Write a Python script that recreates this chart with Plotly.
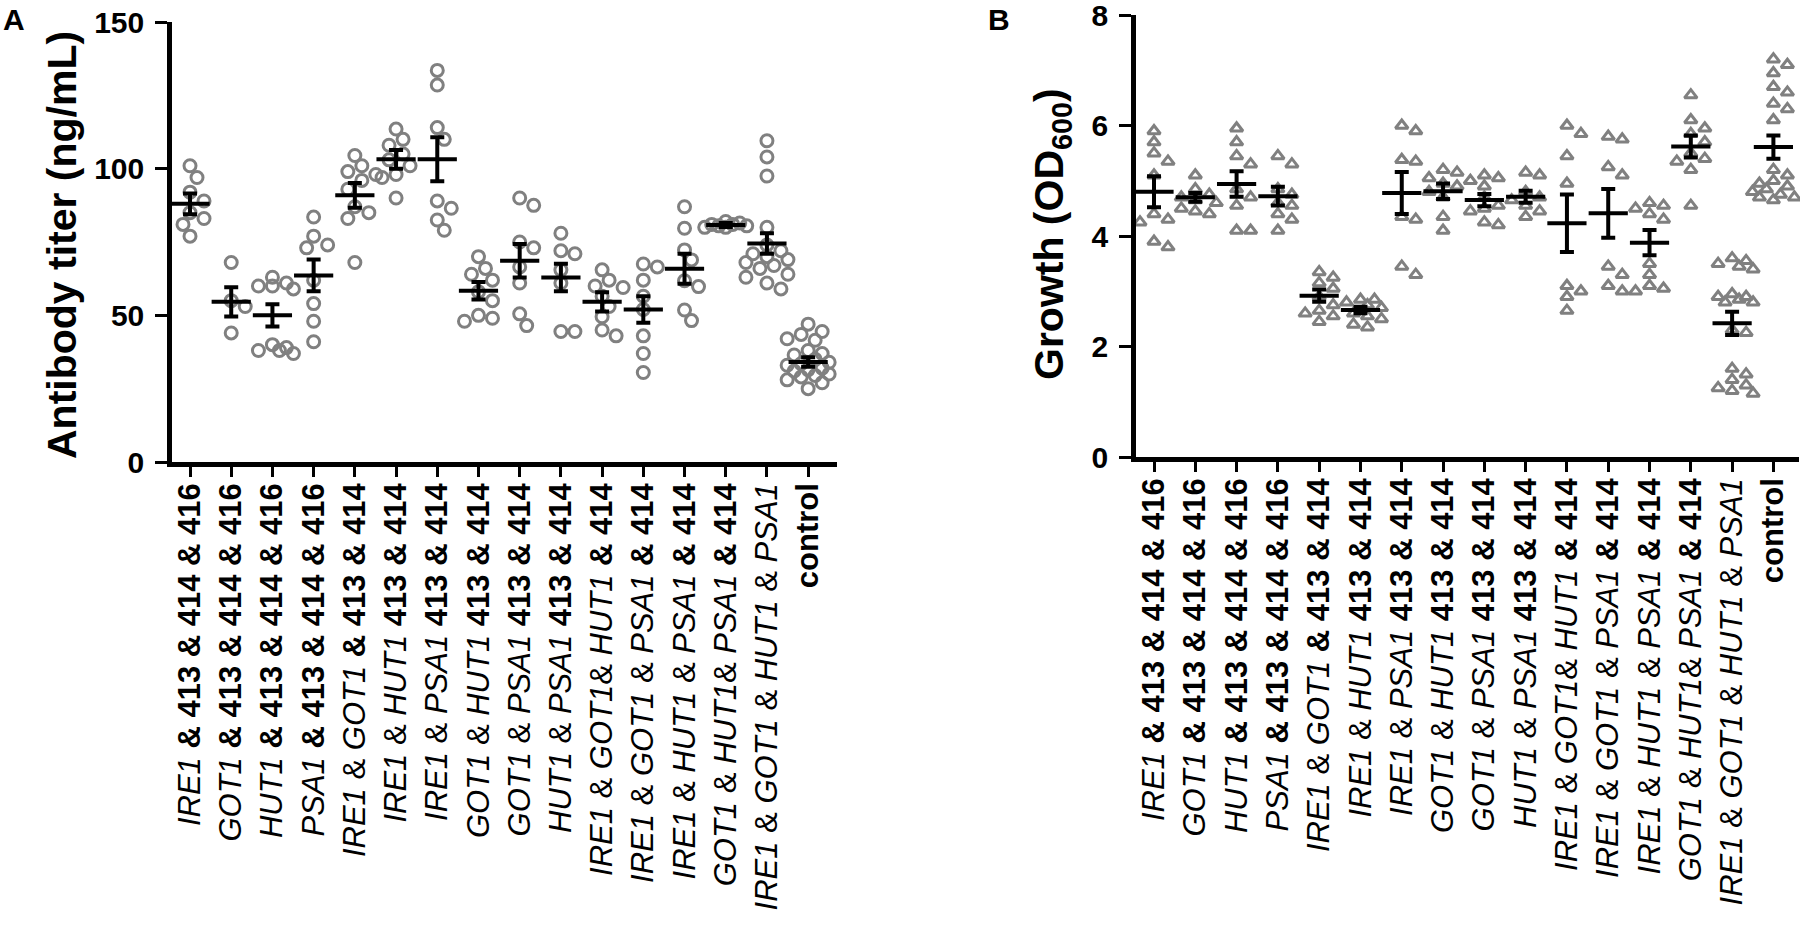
"""Scatter-dot plots of antibody titer and growth for the helper-gene strains."""
import numpy as np
import plotly.graph_objects as go

# --- tick labels (same strains on both panels) ---
LABELS = [
    "<i>IRE1</i><b> &amp; 413 &amp; 414 &amp; 416</b>",
    "<i>GOT1</i><b> &amp; 413 &amp; 414 &amp; 416</b>",
    "<i>HUT1</i><b> &amp; 413 &amp; 414 &amp; 416</b>",
    "<i>PSA1</i><b> &amp; 413 &amp; 414 &amp; 416</b>",
    "<i>IRE1</i> &amp; <i>GOT1</i><b> &amp; 413 &amp; 414</b>",
    "<i>IRE1</i> &amp; <i>HUT1</i><b> 413 &amp; 414</b>",
    "<i>IRE1</i> &amp; <i>PSA1</i><b> 413 &amp; 414</b>",
    "<i>GOT1</i> &amp; <i>HUT1</i><b> 413 &amp; 414</b>",
    "<i>GOT1</i> &amp; <i>PSA1</i><b> 413 &amp; 414</b>",
    "<i>HUT1</i> &amp; <i>PSA1</i><b> 413 &amp; 414</b>",
    "<i>IRE1</i> &amp; <i>GOT1</i>&amp; <i>HUT1</i><b> &amp; 414</b>",
    "<i>IRE1</i> &amp; <i>GOT1</i> &amp; <i>PSA1</i><b> &amp; 414</b>",
    "<i>IRE1</i> &amp; <i>HUT1</i> &amp; <i>PSA1</i><b> &amp; 414</b>",
    "<i>GOT1</i> &amp; <i>HUT1</i>&amp; <i>PSA1</i><b> &amp; 414</b>",
    "<i>IRE1</i> &amp; <i>GOT1</i> &amp; <i>HUT1</i> &amp; <i>PSA1</i>",
    "<b>control</b>",
]

# --- panel A: antibody titer (ng/mL) ---
TITER_POINTS = [
    [101, 97, 92, 89, 85, 83, 81, 77],
    [68, 55, 53, 44],
    [63, 61, 60, 59, 60, 40, 38, 37, 38, 39],
    [83.5, 77, 74, 73, 62, 54, 48, 41],
    [104.5, 101, 99, 98, 96, 93, 87, 85, 83, 68],
    [113.5, 110, 108, 105, 103, 101, 98, 97, 90],
    [133.5, 128.5, 114, 110, 89, 86.5, 82.5, 79],
    [70, 66, 64, 62, 58, 55, 50, 49, 48],
    [90, 87.5, 75, 73, 66.5, 61, 50.5, 46.5],
    [78, 72, 71, 65.5, 61, 44.5, 44.5],
    [65.5, 62, 60, 59.5, 56.5, 53, 49.5, 45, 43],
    [67.5, 66.5, 62, 56.5, 52, 43, 37, 30.5],
    [87, 79.7, 72.3, 68.9, 61.8, 59.8, 51.8, 48.2],
    [82, 81.5, 81, 81, 80.5, 80.5, 80, 80],
    [109.5, 104, 97.5, 80, 74, 72, 71, 70, 69, 68, 67, 66, 64, 63, 61, 59],
    [47, 44.5, 43.5, 42, 41.5, 38, 37, 36.5, 35, 34, 33.5, 33, 32, 31.5,
     31, 30, 29.5, 29, 28, 27, 25],
]
TITER_MEAN = [88.0, 54.6, 50.0, 63.6, 90.9, 103.2, 103.2, 58.4,
              68.6, 62.9, 54.6, 52.0, 65.9, 80.8, 74.5, 34.1]
TITER_SEM = [3.5, 5.0, 3.8, 5.4, 4.2, 3.2, 7.5, 3.0,
             5.7, 4.7, 3.3, 4.5, 5.1, 0.7, 3.5, 1.6]

# --- panel B: growth (OD600) ---
GROWTH_POINTS = [
    [5.9, 5.7, 5.5, 5.35, 5.1, 4.4, 4.3, 4.25, 3.9, 3.8],
    [5.1, 4.85, 4.75, 4.7, 4.65, 4.6, 4.5, 4.45, 4.4],
    [5.95, 5.7, 5.45, 5.3, 4.85, 4.7, 4.55, 4.1, 4.1],
    [5.45, 5.3, 4.85, 4.75, 4.6, 4.55, 4.4, 4.3, 4.1],
    [3.35, 3.25, 3.15, 3.05, 2.9, 2.75, 2.65, 2.6, 2.55, 2.45],
    [2.85, 2.85, 2.8, 2.75, 2.7, 2.6, 2.55, 2.5, 2.4, 2.35],
    [6.0, 5.9, 5.38, 5.35, 4.35, 4.3, 3.45, 3.3],
    [5.2, 5.15, 5.05, 4.95, 4.9, 4.8, 4.7, 4.35, 4.1],
    [5.1, 5.05, 5.0, 4.9, 4.7, 4.55, 4.5, 4.45, 4.25, 4.2],
    [5.15, 5.1, 4.8, 4.7, 4.65, 4.55, 4.45, 4.35],
    [6.0, 5.85, 5.45, 4.95, 3.1, 3.0, 2.9, 2.65],
    [5.8, 5.75, 5.25, 5.1, 3.45, 3.3, 3.1, 3.0],
    [4.6, 4.55, 4.5, 4.4, 4.3, 3.5, 3.3, 3.1, 3.05, 3.0],
    [6.55, 6.1, 5.95, 5.85, 5.7, 5.5, 5.4, 5.35, 5.2, 4.55],
    [3.6, 3.55, 3.5, 3.45, 3.4, 2.95, 2.9, 2.9, 2.85, 2.8, 2.8, 2.3, 2.25,
     1.6, 1.5, 1.4, 1.3, 1.25, 1.2, 1.15],
    [7.2, 7.1, 6.95, 6.7, 6.6, 6.4, 6.3, 6.1, 5.2, 5.1, 5.0, 4.95, 4.9,
     4.85, 4.8, 4.75, 4.7, 4.7, 4.65],
]
GROWTH_MEAN = [4.80, 4.70, 4.94, 4.72, 2.92, 2.66, 4.78, 4.81,
               4.65, 4.71, 4.23, 4.41, 3.88, 5.62, 2.42, 5.61]
GROWTH_SEM = [0.28, 0.08, 0.23, 0.17, 0.11, 0.06, 0.38, 0.14,
              0.11, 0.11, 0.52, 0.44, 0.23, 0.20, 0.21, 0.21]

W, H = 1800, 941
FONT = "Arial, Liberation Sans, sans-serif"
GREY = "#808080"

# plot-area boxes in pixels: (left, right, top, bottom)
BOX_A = (172, 837, 22, 462)
BOX_B = (1136, 1799, 15, 457)
XR_A = [-0.437, 15.70]
XR_B = [-0.436, 15.62]


def swarm(values, px_per_unit, px_per_cat, step, diam, nslot=3):
    """Spread points into side slots so markers overlap less (GraphPad-like)."""
    slots = [0]
    for k in range(1, nslot + 1):
        slots += [k, -k]
    placed = []
    offs = [0.0] * len(values)
    for i in np.argsort(values)[::-1]:
        y = values[i] * px_per_unit
        best, best_d = 0, -1.0
        for s in slots:
            x = s * step
            d = min([np.hypot(x - px, y - py) for px, py in placed] or [1e9])
            if d >= diam:
                best = s
                break
            if d > best_d:
                best, best_d = s, d
        placed.append((best * step, y))
        offs[i] = best * step / px_per_cat
    return offs


def add_panel(fig, points, means, sems, box, xr, yr, axis, symbol, msize, step, diam):
    left, right, top, bottom = box
    ppu = (bottom - top) / (yr[1] - yr[0])
    ppc = (right - left) / (xr[1] - xr[0])
    xs, ys = [], []
    for k, vals in enumerate(points):
        for v, o in zip(vals, swarm(vals, ppu, ppc, step, diam)):
            xs.append(k + o)
            ys.append(v)
    xa, ya = ("x", "y") if axis == 1 else ("x2", "y2")
    fig.add_trace(go.Scatter(
        x=xs, y=ys, mode="markers", xaxis=xa, yaxis=ya,
        marker=dict(symbol=symbol, size=msize, color=GREY,
                    line=dict(color=GREY, width=3)),
        cliponaxis=False,
    ))
    fig.add_trace(go.Scatter(
        x=list(range(len(means))), y=means, mode="markers", xaxis=xa, yaxis=ya,
        marker=dict(symbol="line-ew", size=28, color="black",
                    line=dict(color="black", width=4)),
        error_y=dict(type="data", array=sems, color="black", thickness=4, width=7),
        cliponaxis=False,
    ))


fig = go.Figure()
add_panel(fig, TITER_POINTS, TITER_MEAN, TITER_SEM, BOX_A, XR_A, [0, 150], 1,
          "circle-open", 12, 7, 12)
add_panel(fig, GROWTH_POINTS, GROWTH_MEAN, GROWTH_SEM, BOX_B, XR_B, [0, 8], 2,
          "triangle-up-open", 11, 7, 11)

xcommon = dict(
    tickmode="array", tickvals=list(range(len(LABELS))), ticktext=LABELS,
    tickangle=-90, showline=True, linewidth=4.5, linecolor="black",
    ticks="outside", ticklen=10, tickwidth=3, tickcolor="black",
    ticklabelstandoff=-6, showgrid=False, zeroline=False, automargin=False,
    ticklabeloverflow="allow",
    tickfont=dict(family=FONT, size=31, color="black"),
)
ycommon = dict(
    showline=True, linewidth=4.5, linecolor="black", ticks="outside",
    ticklen=12, tickwidth=3, tickcolor="black", ticklabelstandoff=5,
    showgrid=False, zeroline=False, automargin=False,
    ticklabeloverflow="allow",
    tickfont=dict(family=FONT, size=30, color="black", weight="bold"),
)


def dom_x(box):
    return [box[0] / W, box[1] / W]


def dom_y(box):
    return [1 - box[3] / H, 1 - box[2] / H]


def label(text, x, y, size, angle=0, xanchor="center", yanchor="middle"):
    return dict(text=text, x=x / W, y=1 - y / H, xref="paper", yref="paper",
                xanchor=xanchor, yanchor=yanchor, textangle=angle,
                showarrow=False, font=dict(family=FONT, size=size, color="black"))


fig.update_layout(
    width=W, height=H, margin=dict(l=0, r=0, t=0, b=0),
    paper_bgcolor="white", plot_bgcolor="white", showlegend=False,
    xaxis=dict(domain=dom_x(BOX_A), range=XR_A, anchor="y", **xcommon),
    yaxis=dict(domain=dom_y(BOX_A), range=[0, 150], anchor="x",
               tickvals=[0, 50, 100, 150], **ycommon),
    xaxis2=dict(domain=dom_x(BOX_B), range=XR_B, anchor="y2", **xcommon),
    yaxis2=dict(domain=dom_y(BOX_B), range=[0, 8], anchor="x2",
                tickvals=[0, 2, 4, 6, 8], **ycommon),
    annotations=[
        label("<b>Antibody titer (ng/mL)</b>", 62, 245, 41, angle=-90),
        label("<b>Growth (OD<sub>600</sub>)</b>", 1052, 234, 41, angle=-90),
        label("<b>A</b>", 1, 1, 30, xanchor="left", yanchor="top"),
        label("<b>B</b>", 986, 1, 30, xanchor="left", yanchor="top"),
    ],
)

# drop the default page margin so the figure sits at the window's corner
fig.write_html(
    "out.html",
    config={"displayModeBar": False},
    post_script="document.body.style.margin='0';document.body.style.overflow='hidden';",
)
